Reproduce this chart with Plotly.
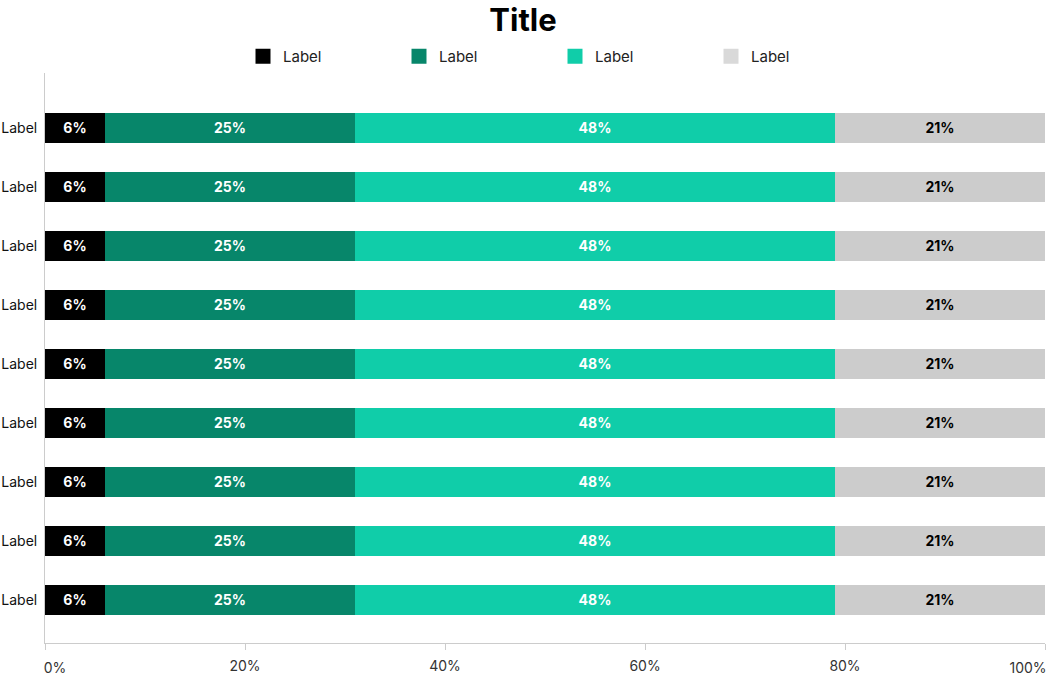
import plotly.graph_objects as go

categories = ["Label"] * 9
row_ids = list(range(9))
series_names = ["Label", "Label", "Label", "Label"]
series_values = [
    [6] * 9,
    [25] * 9,
    [48] * 9,
    [21] * 9,
]
colors = ["#000000", "#07866A", "#10CDA9", "#CCCCCC"]
legend_colors = ["#000000", "#07866A", "#10CDA9", "#D9D9D9"]
text_colors = ["#FFFFFF", "#FFFFFF", "#FFFFFF", "#000000"]
x_ticks = [0, 20, 40, 60, 80, 100]
x_tick_labels = ["0%", "20%", "40%", "60%", "80%", "100%"]

fig = go.Figure()
for name, vals, col, tcol in zip(series_names, series_values, colors, text_colors):
    fig.add_trace(go.Bar(
        y=row_ids, x=vals, name=name, orientation="h",
        marker=dict(color=col, line=dict(width=0)),
        width=0.51,
        text=[f"{v}%" for v in vals],
        textposition="inside", insidetextanchor="middle",
        textfont=dict(family="Inter", size=14, color=tcol, weight="bold"),
        constraintext="none",
        showlegend=False,
    ))
# legend entries with square symbols
for name, col in zip(series_names, legend_colors):
    fig.add_trace(go.Scatter(
        x=[None], y=[None], mode="markers", name=name,
        marker=dict(symbol="square", size=15, color=col),
        showlegend=True, hoverinfo="skip",
    ))
# empty carriers so the end-label axes are drawn
for ax in ["x2", "x3"]:
    fig.add_trace(go.Scatter(x=[None], y=[None], xaxis=ax, yaxis="y", mode="markers",
                             showlegend=False, hoverinfo="skip"))

tick_font = dict(family="Inter", size=14, color="#333333")
mid_text = [""] + x_tick_labels[1:-1] + [""]

fig.update_layout(
    width=1046, height=678,
    barmode="stack",
    plot_bgcolor="white", paper_bgcolor="white",
    margin=dict(l=45, r=1, t=73, b=35),
    font=dict(family="Inter", color="#222222"),
    title=dict(text="<b>Title</b>", x=0.5, xanchor="center", y=0.97, yanchor="middle",
               font=dict(family="Inter", size=31, color="#000000")),
    legend=dict(orientation="h", x=0.51, xanchor="center", y=1.0, yanchor="bottom",
                entrywidth=111, font=dict(family="Inter", size=15, color="#222222"),
                traceorder="normal", itemwidth=30),
    showlegend=True,
    uniformtext=dict(mode="show", minsize=10),
    xaxis=dict(range=[0, 100], tickvals=x_ticks, ticktext=mid_text,
               showgrid=False, zeroline=False, showline=True, linecolor="#CCCCCC",
               ticks="outside", ticklen=6, tickcolor="#CCCCCC",
               automargin=False, ticklabelstandoff=4, tickfont=tick_font),
    xaxis2=dict(range=[0, 100], overlaying="x", anchor="y", side="bottom",
                tickvals=[x_ticks[0]], ticktext=[x_tick_labels[0]],
                showgrid=False, zeroline=False, showline=False, ticks="",
                automargin=False, ticklabelstandoff=15, ticklabelshift=10,
                ticklabeloverflow="allow", tickfont=tick_font),
    xaxis3=dict(range=[0, 100], overlaying="x", anchor="y", side="bottom",
                tickvals=[x_ticks[-1]], ticktext=[x_tick_labels[-1]],
                showgrid=False, zeroline=False, showline=False, ticks="",
                automargin=False, ticklabelstandoff=15, ticklabelshift=-17,
                ticklabeloverflow="allow", tickfont=tick_font),
    yaxis=dict(range=[8.73, -0.93], tickvals=row_ids, ticktext=categories,
               showgrid=False, zeroline=False, showline=True, linecolor="#CCCCCC",
               ticks="", automargin=False, ticklabelstandoff=4,
               tickfont=dict(family="Inter", size=14, color="#111111")),
)

fig.write_html("out.html", config={"displayModeBar": False},
               post_script="document.body.style.margin='0';document.body.style.overflow='hidden';")
